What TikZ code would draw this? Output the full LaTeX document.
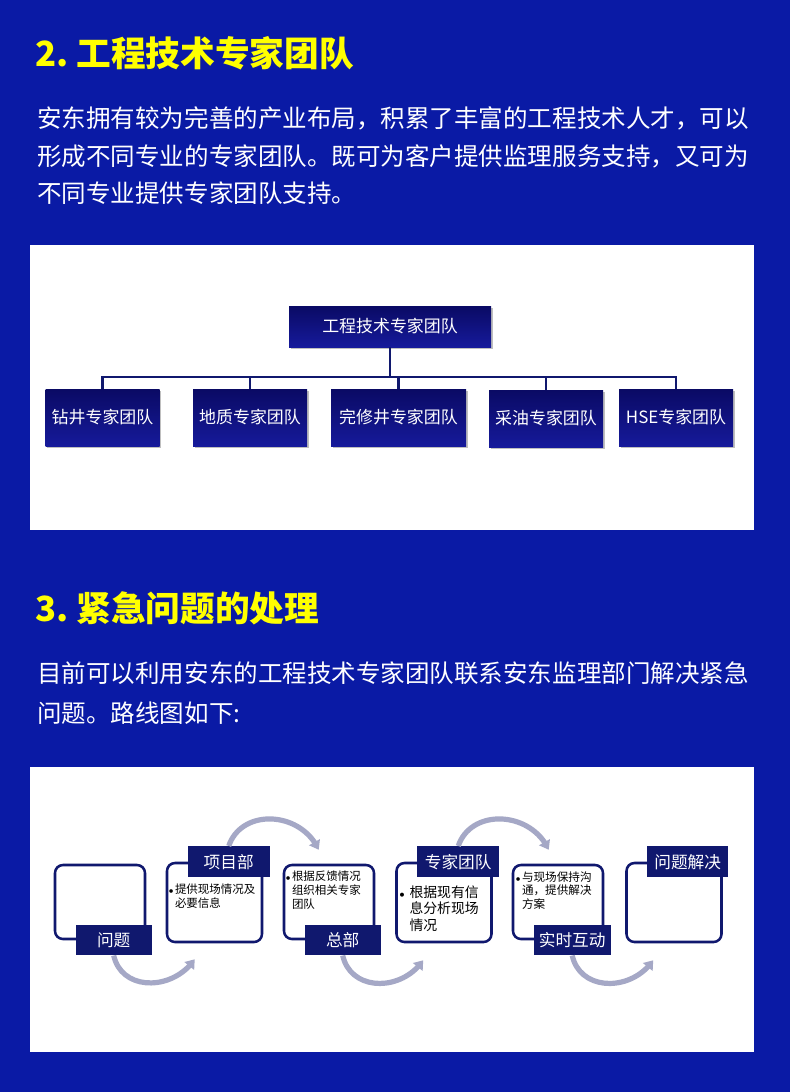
\documentclass[tikz,border=0pt]{standalone}
\usepackage{fontspec}
\setmainfont{Noto Sans CJK SC}
\usetikzlibrary{arrows.meta,backgrounds,calc,bending,positioning,shadows}
\definecolor{fondo}{RGB}{10,26,165}
\definecolor{amarillo}{RGB}{255,255,0}
\definecolor{marino}{RGB}{16,24,110}
\definecolor{azularriba}{RGB}{10,10,100}
\definecolor{azulabajo}{RGB}{22,26,155}
\definecolor{gris}{RGB}{165,168,198}
\newcommand{\punto}{\llap{$\scriptstyle\bullet$\hspace{1pt}}}

\begin{document}
\begin{tikzpicture}[x=0.75pt,y=-0.75pt,inner sep=0pt]
\tikzstyle{titulo}=[anchor=west,text=amarillo,font=\fontsize{26}{30}\selectfont\bfseries]
\tikzstyle{parrafo}=[anchor=north west,align=left,text=white]
\tikzstyle{caja}=[top color=azularriba,bottom color=azulabajo,text=white,minimum width=85.5pt,minimum height=42.75pt,font=\fontsize{12.7}{15}\selectfont,drop shadow={shadow xshift=1.2pt,shadow yshift=-1.2pt,fill=black,opacity=0.25}]
\tikzstyle{linea}=[-,line width=1.9pt,draw=marino]
\tikzstyle{marco}=[draw=marino,line width=1.9pt,rounded corners=6pt,fill=white,minimum width=67.5pt,minimum height=55.5pt]
\tikzstyle{marcogrande}=[marco,minimum width=71.25pt,minimum height=59.25pt]
\tikzstyle{etiqueta}=[fill=marino,text=white,minimum width=57pt,minimum height=22.5pt,font=\fontsize{12.5}{14}\selectfont]
\tikzstyle{contenido}=[anchor=north west,align=left,font=\fontsize{8.6}{11}\selectfont]
\tikzstyle{flecha}=[line width=3.9pt,draw=gris,-{Triangle[length=6.5pt,width=9pt]}]

\fill[fondo] (0,0) rectangle (790,1092);
\fill[white] (30,245) rectangle (754,530);
\fill[white] (30,767) rectangle (754,1052);

\node[titulo] (titulo2) at (35,53) {2.~工程技术专家团队};
\node[parrafo,font=\fontsize{18.4}{28.1}\selectfont] (texto2) at (37,106.5) {安东拥有较为完善的产业布局，积累了丰富的工程技术人才，可以\\形成不同专业的专家团队。既可为客户提供监理服务支持，又可为\\不同专业提供专家团队支持。};

\node[caja,minimum width=151.5pt,minimum height=30.75pt] (t0) at (390,326.5) {工程技术专家团队};
\node[caja] (t1) at (102.5,417.5) {钻井专家团队};
\node[caja] (t2) at (250,417.5) {地质专家团队};
\node[caja,minimum width=101.25pt] (t3) at (398.5,417.5) {完修井专家团队};
\node[caja] (t4) at (546,418.5) {采油专家团队};
\node[caja] (t5) at (676,417.5) {HSE专家团队};
\coordinate (bus) at (390,377);

\draw[linea] (t1.north) |- (bus) -| (t5.north);
\path
  (t0.south) edge[linea] (bus)
  (t2.north) edge[linea] (t2.north |- bus)
  (t3.north) edge[linea] (t3.north |- bus)
  (t4.north) edge[linea] (t4.north |- bus);

\node[titulo] (titulo3) at (35,608) {3.~紧急问题的处理};
\node[parrafo,font=\fontsize{18.4}{30}\selectfont] (texto3) at (37,661.5) {目前可以利用安东的工程技术专家团队联系安东监理部门解决紧急\\问题。路线图如下:};

\node[marco] (p1) at (100,902) {};
\node[marcogrande] (p2) at (214.5,902.5) {};
\node[marco] (p3) at (329,902) {};
\node[marcogrande] (p4) at (444,902.5) {};
\node[marco] (p5) at (558,902) {};
\node[marcogrande] (p6) at (674,902.5) {};

\node[etiqueta] (p1label) at ($(p1.south west)+(60,0)$) {问题};
\node[etiqueta,minimum width=61.5pt,minimum height=23.25pt] (p2label) at ($(p2.north west)+(63,0)$) {项目部};
\node[etiqueta] (p3label) at ($(p3.south west)+(60,0)$) {总部};
\node[etiqueta,minimum width=61.5pt,minimum height=23.25pt] (p4label) at ($(p4.north west)+(63,0)$) {专家团队};
\node[etiqueta,minimum width=57.75pt] (p5label) at ($(p5.south west)+(60.5,0)$) {实时互动};
\node[etiqueta,minimum width=60.75pt,minimum height=23.25pt] (p6label) at ($(p6.north west)+(62.5,0)$) {问题解决};

\node[contenido] (p2content) at ($(p2.north west)+(9,21.5)$) {\punto 提供现场情况及\\必要信息};
\node[contenido,font=\fontsize{8.6}{10.5}\selectfont] (p3content) at ($(p3.north west)+(9,6.6)$) {\punto 根据反馈情况\\组织相关专家\\团队};
\node[contenido,font=\fontsize{10.4}{12.4}\selectfont] (p4content) at ($(p4.north west)+(14,23.5)$) {\llap{$\scriptstyle\bullet$\hspace{3.5pt}}根据现有信\\息分析现场\\情况};
\node[contenido,font=\fontsize{8.7}{10.1}\selectfont] (p5content) at ($(p5.north west)+(10,7.5)$) {\punto 与现场保持沟\\通，提供解决\\方案};

\coordinate (a1) at ($(p2.south west)+(29,16)$);
\coordinate (a2) at ($(p3.north west)+(36,-14)$);
\coordinate (a3) at ($(p4.south west)+(28,17)$);
\coordinate (a4) at ($(p5.north west)+(37,-14)$);
\coordinate (a5) at ($(p6.south west)+(28,17)$);

\draw[flecha] (p1label.south) .. controls +(8,36) and +(-22,32) .. (a1);
\draw[flecha] (p2label.north) .. controls +(13,-38) and +(-18,-39) .. (a2);
\draw[flecha] (p3label.south) .. controls +(8,36) and +(-22,32) .. (a3);
\draw[flecha] (p4label.north) .. controls +(13,-38) and +(-18,-39) .. (a4);
\draw[flecha] (p5label.south) .. controls +(8,36) and +(-22,32) .. (a5);
\end{tikzpicture}
\end{document}
